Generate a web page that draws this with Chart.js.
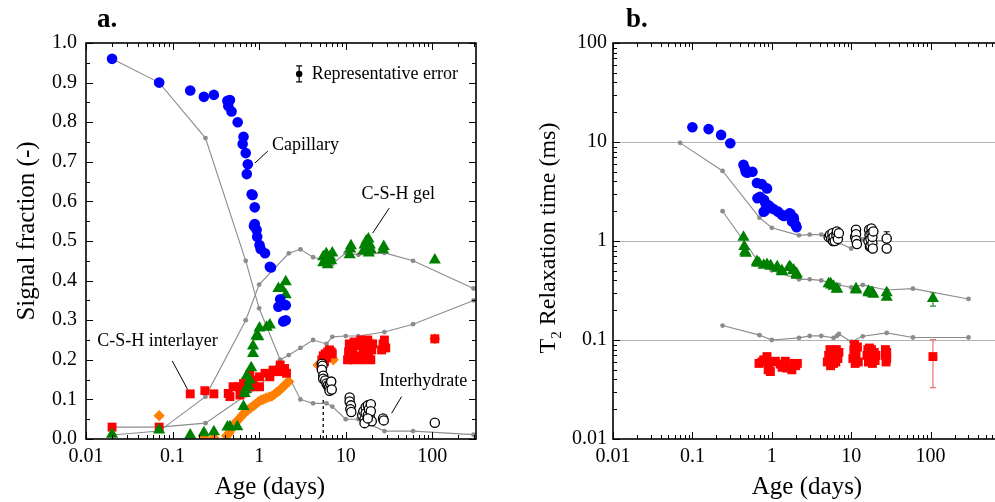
<!DOCTYPE html>
<html>
<head>
<meta charset="utf-8">
<title>Signal fractions and T2 relaxation times vs age</title>
<script src="https://cdn.jsdelivr.net/npm/chart.js@4.4.1/dist/chart.umd.min.js"></script>
<style>
  body { margin: 0; width: 995px; height: 502px; overflow: hidden; background: #fff; position: relative; }
  #chartA { position: absolute; left: 0; top: 0; }
  #chartB { position: absolute; left: 500px; top: 0; }
</style>
</head>
<body>
<canvas id="chartA" width="500" height="502"></canvas>
<canvas id="chartB" width="530" height="502"></canvas>
<script>
// ---------- panel a : signal fraction vs age (days) ----------
const capillaryFrac = [[0.02,0.96],[0.07,0.90],[0.16,0.88],[0.23,0.864],[0.30,0.869],[0.43,0.854],[0.46,0.856],
  [0.44,0.841],[0.48,0.827],[0.565,0.80],[0.66,0.763],[0.645,0.745],[0.70,0.722],[0.74,0.694],[0.72,0.669],
  [0.82,0.618],[0.84,0.616],[0.89,0.585],[0.89,0.543],[0.87,0.538],[0.935,0.528],[0.95,0.511],[1.01,0.49],
  [1.04,0.48],[1.17,0.469],[1.33,0.435],[1.37,0.433],[1.67,0.334],[1.75,0.353],[2.03,0.338],[1.9,0.297],[2.03,0.30]];
const gelFrac = [[0.02,0.012],[0.07,0.023],[0.16,0.01],[0.23,0.016],[0.30,0.018],[0.43,0.03],[0.46,0.031],
  [0.56,0.031],[0.66,0.082],[0.68,0.115],[0.70,0.125],[0.75,0.133],[0.72,0.16],[0.78,0.149],[0.81,0.18],
  [0.85,0.216],[0.85,0.235],[0.93,0.26],[0.98,0.258],[1.01,0.28],[1.22,0.282],[1.33,0.288],[1.67,0.38],
  [1.82,0.38],[2.03,0.397],[2.03,0.364],
  [5.5,0.445],[5.5,0.46],[5.8,0.45],[5.96,0.468],[6.2,0.455],[6.2,0.44],[6.6,0.46],[6.8,0.45],[7.0,0.47],
  [11.1,0.465],[11.3,0.48],[11.5,0.488],[16,0.475],[16.5,0.49],[17,0.48],[17.3,0.5],[18,0.485],[18.3,0.505],
  [18.5,0.47],[19,0.49],[19.5,0.478],[27,0.478],[27.5,0.486],[107,0.452]];
const interlayerFrac = [[0.02,0.03],[0.07,0.03],[0.16,0.114],[0.236,0.122],[0.30,0.114],[0.44,0.115],[0.46,0.107],
  [0.50,0.132],[0.57,0.132],[0.6,0.111],[0.66,0.14],[0.74,0.132],[0.78,0.162],[0.85,0.149],[0.89,0.132],
  [1.01,0.157],[1.01,0.132],[1.17,0.166],[1.33,0.157],[1.45,0.174],[1.67,0.17],[1.75,0.187],[1.97,0.178],[2.07,0.166],
  [5.2,0.185],[5.3,0.2],[5.5,0.21],[5.7,0.195],[5.8,0.215],[6.0,0.205],[6.2,0.22],[6.5,0.225],[6.8,0.22],[7.0,0.215],
  [10.5,0.2],[10.8,0.22],[11,0.24],[11.5,0.21],[12,0.23],[12.3,0.2],[12.5,0.245],
  [14,0.21],[14.5,0.235],[15,0.25],[15.5,0.2],[16,0.225],[16.5,0.245],[17,0.205],[17.5,0.235],[18,0.25],
  [18.5,0.215],[19,0.24],[19.5,0.2],[20,0.225],[20.5,0.24],
  [26,0.225],[27,0.24],[28,0.25],[29,0.23],[107,0.253]];
const diamondFrac = [[0.07,0.059],[0.23,0.003],[0.30,0.003],[0.42,0.008],[0.45,0.015],[0.48,0.025],[0.51,0.035],
  [0.54,0.042],[0.57,0.048],[0.61,0.055],[0.65,0.062],[0.69,0.068],[0.74,0.073],[0.79,0.078],[0.85,0.083],
  [0.91,0.088],[0.98,0.094],[1.05,0.098],[1.12,0.1],[1.2,0.103],[1.3,0.106],[1.4,0.108],[1.5,0.113],[1.6,0.118],
  [1.7,0.122],[1.8,0.127],[1.9,0.132],[2.0,0.137],[2.1,0.142],[2.2,0.145],
  [4.8,0.187],[7.2,0.2],[11,0.22],[18,0.22],[28,0.235],[107,0.253]];
const interhydrateFrac = [[5.3,0.19],[5.4,0.185],[5.3,0.175],[5.5,0.16],[5.5,0.152],[5.8,0.148],[6.0,0.14],
  [6.2,0.135],[6.4,0.13],[6.6,0.14],[6.8,0.145],[6.5,0.122],[6.9,0.125],
  [11.1,0.105],[11.1,0.095],[11.5,0.085],[11.3,0.075],[11.6,0.068],
  [15.5,0.06],[16,0.07],[16.5,0.05],[17,0.08],[17,0.065],[17.5,0.045],[18,0.085],[18,0.06],[18.5,0.075],
  [19,0.055],[19.5,0.088],[19.5,0.07],[20,0.045],[16.5,0.04],[18,0.052],
  [27,0.052],[27.5,0.047],[107,0.041]];
const capillaryModelFrac = [[0.02,0.96],[0.07,0.90],[0.24,0.76],[0.7,0.45],[1,0.33],[1.75,0.2],[3,0.1],[4.2,0.09],
  [6,0.09],[7,0.082],[10,0.05],[14,0.05],[28,0.02],[60,0.02],[300,0.011]];
const gelModelFrac = [[0.02,0.01],[0.07,0.02],[0.24,0.107],[0.7,0.30],[1,0.39],[2.2,0.469],[3,0.479],[4.2,0.459],
  [6,0.45],[7,0.442],[10,0.47],[14,0.465],[28,0.47],[60,0.45],[300,0.38]];
const interlayerModelFrac = [[0.02,0.03],[0.07,0.03],[0.24,0.04],[0.7,0.11],[1,0.13],[1.75,0.2],[2.2,0.212],
  [3,0.23],[4.2,0.25],[6,0.24],[7,0.258],[10,0.26],[14,0.26],[28,0.27],[60,0.29],[300,0.35]];
const markerLine55 = [[5.5,0],[5.5,0.107]];
const repErrorA = [[2.9,0.922,0.902,0.942]];     // age, value, low, high

// ---------- panel b : T2 relaxation time (ms) vs age (days) ----------
const capillaryT2 = [[0.1,14.1],[0.16,13.5],[0.23,11.8],[0.30,9.7],[0.44,5.9],[0.46,5.4],[0.47,5.0],[0.49,4.9],
  [0.57,5.0],[0.65,3.85],[0.75,3.75],[0.87,3.4],[0.66,2.7],[0.71,2.8],[0.8,2.6],[0.83,2.4],[0.91,2.3],[0.79,1.98],
  [0.83,2.05],[0.96,2.2],[1.05,2.1],[1.2,1.98],[1.34,1.84],[1.42,1.79],[1.67,1.9],[1.72,1.88],[1.88,1.73],
  [1.9,1.65],[1.8,1.57],[2.0,1.45],[2.05,1.38]];
const gelT2 = [[0.44,1.09],[0.45,0.88],[0.46,0.78],[0.47,0.75],[0.65,0.62],[0.65,0.6],[0.69,0.6],[0.79,0.57],
  [0.87,0.58],[0.96,0.56],[0.97,0.56],[1.17,0.53],[1.17,0.55],[1.34,0.49],[1.34,0.5],[1.66,0.55],[1.72,0.54],
  [1.88,0.51],[1.88,0.5],[2.05,0.47],[2.05,0.45],[5.2,0.37],[5.5,0.37],[5.6,0.36],[6.0,0.35],[6.6,0.33],
  [6.6,0.325],[11.5,0.32],[11.5,0.33],[16.5,0.31],[16.5,0.30],[17.8,0.30],[18.5,0.30],[19,0.29],[28,0.30],
  [28,0.27],[107,0.263]];
const interlayerT2 = [[0.69,0.058],[0.75,0.06],[0.79,0.063],[0.87,0.068],[0.91,0.054],[0.96,0.048],[0.9,0.05],
  [1.0,0.06],[1.11,0.061],[1.28,0.057],[1.35,0.053],[1.48,0.061],[1.55,0.052],[1.79,0.05],[1.89,0.058],[2.0,0.055],
  [2.1,0.058],
  [5.0,0.06],[5.2,0.07],[5.4,0.08],[5.5,0.055],[5.6,0.065],[5.8,0.075],[6.0,0.058],[6.2,0.07],[6.4,0.06],
  [6.5,0.08],[6.8,0.065],[7.0,0.075],
  [10.5,0.065],[10.8,0.08],[11,0.09],[11.2,0.058],[11.5,0.07],[12,0.085],[12.3,0.06],
  [15.8,0.07],[16.2,0.08],[16.5,0.06],[17,0.075],[17,0.083],[17.5,0.065],[18,0.08],[18.5,0.058],[19,0.07],
  [19.5,0.075],[20,0.062],[20.5,0.07],
  [27,0.08],[27,0.07],[27.5,0.06],[28,0.075],[28,0.065],[107,0.068]];
const interhydrateT2 = [[5.2,1.1],[5.4,1.15],[5.6,1.05],[5.8,1.2],[5.9,1.0],[6.0,1.1],[6.2,1.0],[6.5,1.15],
  [6.6,1.25],[6.8,1.05],[7.0,1.2],
  [11.2,1.1],[11.5,1.3],[11.5,1.17],[11.5,1.02],[11.8,0.93],
  [16.5,1.0],[16.8,1.3],[17,1.15],[17.2,0.88],[17.5,0.9],[17.5,1.05],[18,1.34],[18,1.2],[18.5,0.95],
  [18.5,1.1],[18.7,0.84],[19,1.25],[28,1.06],[28,0.84]];
const capillaryModelT2 = [[0.07,9.8],[0.24,5.1],[0.7,1.72],[1,1.36],[2.2,1.14],[3,1.16],[4.2,1.16],[7,0.96],
  [10,0.84],[14,1.04],[28,1.0]];
const gelModelT2 = [[0.24,2.0],[0.7,0.6],[1,0.505],[2.2,0.41],[3,0.41],[4.2,0.40],[7,0.36],[10,0.34],[14,0.36],
  [28,0.32],[60,0.33],[300,0.26]];
const interlayerModelT2 = [[0.24,0.14],[0.7,0.112],[1,0.1],[2.2,0.105],[3,0.11],[4.2,0.11],[6,0.105],[6.6,0.11],
  [7,0.115],[10,0.096],[14,0.109],[28,0.118],[60,0.106],[300,0.106]];
const errInterhydrateT2 = [[28,1.06,0.90,1.24]];
const errGelT2 = [[107,0.263,0.22,0.30]];
const errInterlayerT2 = [[107,0.068,0.033,0.101]];

// tick values and their labels
const ageTicks = [0.01, 0.1, 1, 10, 100];
const ageTickLabels = ['0.01', '0.1', '1', '10', '100'];
const fracTicks = [0, 0.1, 0.2, 0.3, 0.4, 0.5, 0.6, 0.7, 0.8, 0.9, 1.0];
const fracTickLabels = ['0.0', '0.1', '0.2', '0.3', '0.4', '0.5', '0.6', '0.7', '0.8', '0.9', '1.0'];
const t2Ticks = [0.01, 0.1, 1, 10, 100];
const t2TickLabels = ['0.01', '0.1', '1', '10', '100'];

const SERIF = '"Liberation Serif", "Times New Roman", serif';
const GRAY = '#8c8c8c';

const pts = arr => arr.map(([x, y]) => ({x, y}));

function markers(arr, style, radius, fill, order, extra) {
  return Object.assign({
    data: pts(arr), showLine: false, pointStyle: style, pointRadius: radius,
    pointBackgroundColor: fill, pointBorderColor: fill, pointBorderWidth: 0, order: order, clip: 0
  }, extra || {});
}
function model(arr) {
  return {
    data: pts(arr), showLine: true, borderColor: GRAY, borderWidth: 1.1, pointRadius: 2.4,
    pointStyle: 'circle', pointBackgroundColor: GRAY, pointBorderWidth: 0, order: 20, clip: 0
  };
}

function logTickList(min, max) {
  const out = [];
  for (let e = Math.floor(Math.log10(min)); e <= Math.ceil(Math.log10(max)); e++) {
    for (let k = 1; k <= 9; k++) {
      const v = k * Math.pow(10, e);
      if (v >= min * 0.9999 && v <= max * 1.0001) out.push({v, major: k === 1});
    }
  }
  return out;
}
function linTickList(min, max, step) {
  const out = [];
  const n = Math.round((max - min) / step);
  for (let i = 0; i <= n; i++) out.push({v: min + i * step, major: i % 2 === 0});
  return out;
}

// frame, inward ticks, error bars and the text that is not part of the axes
const decor = {
  id: 'decor',
  beforeDatasetsDraw(chart, args, o) {
    const {ctx, scales: {x, y}} = chart;
    ctx.save();
    for (const eb of o.errors || []) {
      ctx.strokeStyle = eb.color;
      ctx.lineWidth = 1.2;
      for (const [ex, , lo, hi] of eb.data) {
        const px = x.getPixelForValue(ex);
        const p1 = y.getPixelForValue(lo), p2 = y.getPixelForValue(hi);
        ctx.beginPath();
        ctx.moveTo(px, p1); ctx.lineTo(px, p2);
        ctx.moveTo(px - 3, p1); ctx.lineTo(px + 3, p1);
        ctx.moveTo(px - 3, p2); ctx.lineTo(px + 3, p2);
        ctx.stroke();
      }
    }
    ctx.restore();
  },
  afterDatasetsDraw(chart, args, o) {
    const {ctx, chartArea: a, scales: {x, y}} = chart;
    ctx.save();
    ctx.strokeStyle = '#000';
    ctx.lineWidth = 1;
    ctx.beginPath();
    for (const t of logTickList(x.min, x.max)) {
      const px = Math.round(x.getPixelForValue(t.v)) + 0.5;
      const len = t.major ? 7 : 4;
      ctx.moveTo(px, a.bottom); ctx.lineTo(px, a.bottom - len);
      ctx.moveTo(px, a.top); ctx.lineTo(px, a.top + len);
    }
    const yt = o.yLog ? logTickList(y.min, y.max) : linTickList(y.min, y.max, 0.05);
    for (const t of yt) {
      const py = Math.round(y.getPixelForValue(t.v)) + 0.5;
      const len = t.major ? 7 : 4;
      ctx.moveTo(a.left, py); ctx.lineTo(a.left + len, py);
      ctx.moveTo(a.right, py); ctx.lineTo(a.right - len, py);
    }
    ctx.stroke();
    ctx.lineWidth = 1.6;
    ctx.strokeRect(a.left, a.top, a.right - a.left, a.bottom - a.top);

    // leader lines and annotations (data coordinates)
    ctx.lineWidth = 1;
    for (const [x1, y1, x2, y2] of o.leaders || []) {
      ctx.beginPath();
      ctx.moveTo(x.getPixelForValue(x1), y.getPixelForValue(y1));
      ctx.lineTo(x.getPixelForValue(x2), y.getPixelForValue(y2));
      ctx.stroke();
    }
    ctx.fillStyle = '#000';
    ctx.textBaseline = 'middle';
    for (const n of o.notes || []) {
      ctx.font = '18px ' + SERIF;
      ctx.textAlign = n.align || 'left';
      ctx.fillText(n.text, x.getPixelForValue(n.x), y.getPixelForValue(n.y));
    }

    // panel letter
    ctx.font = 'bold 27px ' + SERIF;
    ctx.textAlign = 'left';
    ctx.textBaseline = 'alphabetic';
    ctx.fillText(o.letter.text, o.letter.x, o.letter.y);

    // axis titles
    ctx.font = '25px ' + SERIF;
    ctx.textAlign = 'center';
    ctx.textBaseline = 'middle';
    ctx.fillText(o.xTitle.text, o.xTitle.x, o.xTitle.y);
    ctx.translate(o.yTitle.x, o.yTitle.y);
    ctx.rotate(-Math.PI / 2);
    if (o.yTitle.sub) {
      ctx.font = '24px ' + SERIF;
      const mainW = ctx.measureText(o.yTitle.lead).width;
      const restW = ctx.measureText(o.yTitle.text).width;
      ctx.font = '15px ' + SERIF;
      const subW = ctx.measureText(o.yTitle.sub).width;
      let cx = -(mainW + subW + restW) / 2;
      ctx.textAlign = 'left';
      ctx.font = '24px ' + SERIF;
      ctx.fillText(o.yTitle.lead, cx, 0);
      cx += mainW;
      ctx.font = '15px ' + SERIF;
      ctx.fillText(o.yTitle.sub, cx, 8);
      cx += subW;
      ctx.font = '24px ' + SERIF;
      ctx.fillText(o.yTitle.text, cx, 0);
    } else {
      ctx.fillText(o.yTitle.text, 0, 0);
    }
    ctx.restore();
  }
};

function fixedTicks(values, labels) {
  return {
    afterBuildTicks: scale => { scale.ticks = values.map(v => ({value: v})); },
    ticks: {
      autoSkip: false, maxRotation: 0, color: '#000', font: {family: SERIF, size: 20},
      callback: (v, i) => labels[i]
    }
  };
}

// ----- panel a -----
const xA = fixedTicks(ageTicks, ageTickLabels);
const yA = fixedTicks(fracTicks, fracTickLabels);
new Chart(document.getElementById('chartA'), {
  type: 'scatter',
  data: {
    datasets: [
      markers(interhydrateFrac, 'circle', 4.6, '#fff', 0, {pointBorderColor: '#000', pointBorderWidth: 1.3}),
      markers(repErrorA.map(r => [r[0], r[1]]), 'circle', 3.2, '#000', 1),
      markers(capillaryFrac, 'circle', 5.3, '#0000ff', 2),
      markers(gelFrac, 'triangle', 7, '#008000', 3),
      markers(interlayerFrac, 'rect', 6.3, '#ff0000', 4),
      markers(diamondFrac, 'rectRot', 5.6, '#ff8000', 5),
      model(capillaryModelFrac),
      model(gelModelFrac),
      model(interlayerModelFrac),
      {data: pts(markerLine55), showLine: true, borderColor: '#000', borderWidth: 1.3, borderDash: [3, 3],
       pointRadius: 0, order: 25, clip: 0}
    ]
  },
  options: {
    responsive: false, animation: false, events: [],
    layout: {padding: {top: 43, right: 24, left: 0, bottom: 0}},
    plugins: {
      legend: {display: false}, tooltip: {enabled: false},
      decor: {
        yLog: false,
        errors: [{data: repErrorA, color: '#000'}],
        leaders: [[0.895, 0.697, 1.26, 0.727], [20.5, 0.52, 31.8, 0.583],
                  [0.0992, 0.197, 0.149, 0.1255], [33.9, 0.065, 44.2, 0.107]],
        notes: [
          {text: 'Capillary', x: 1.41, y: 0.742},
          {text: 'C-S-H gel', x: 40.4, y: 0.618, align: 'center'},
          {text: 'C-S-H interlayer', x: 0.0135, y: 0.246},
          {text: 'Interhydrate', x: 24.4, y: 0.146},
          {text: 'Representative error', x: 4.04, y: 0.922}
        ],
        letter: {text: 'a.', x: 97, y: 27},
        xTitle: {text: 'Age (days)', x: 270, y: 487},
        yTitle: {text: 'Signal fraction (-)', x: 27, y: 231}
      }
    },
    scales: {
      x: Object.assign({type: 'logarithmic', min: 0.01, max: 320,
        grid: {display: false, drawTicks: false}, border: {display: false},
        afterFit: s => { s.height = 63; }}, xA,
        {ticks: Object.assign({}, xA.ticks, {padding: 6})}),
      y: Object.assign({type: 'linear', min: 0, max: 1,
        grid: {display: false, drawTicks: false}, border: {display: false},
        afterFit: s => { s.width = 86; }}, yA,
        {ticks: Object.assign({}, yA.ticks, {padding: 9})})
    }
  },
  plugins: [decor]
});

// ----- panel b -----
const xB = fixedTicks(ageTicks, ageTickLabels);
const yB = fixedTicks(t2Ticks, t2TickLabels);
new Chart(document.getElementById('chartB'), {
  type: 'scatter',
  data: {
    datasets: [
      markers(interhydrateT2, 'circle', 4.6, '#fff', 0, {pointBorderColor: '#000', pointBorderWidth: 1.3}),
      markers(capillaryT2, 'circle', 5.3, '#0000ff', 2),
      markers(gelT2, 'triangle', 7, '#008000', 3),
      markers(interlayerT2, 'rect', 6.3, '#ff0000', 4),
      model(capillaryModelT2),
      model(gelModelT2),
      model(interlayerModelT2)
    ]
  },
  options: {
    responsive: false, animation: false, events: [],
    layout: {padding: {top: 43, right: 20, left: 0, bottom: 0}},
    plugins: {
      legend: {display: false}, tooltip: {enabled: false},
      decor: {
        yLog: true,
        errors: [{data: errInterhydrateT2, color: '#000'}, {data: errGelT2, color: '#2e8b2e'},
                 {data: errInterlayerT2, color: '#f07070'}],
        letter: {text: 'b.', x: 126, y: 27},
        xTitle: {text: 'Age (days)', x: 307, y: 487},
        yTitle: {lead: 'T', sub: '2', text: ' Relaxation time (ms)', x: 49, y: 238}
      }
    },
    scales: {
      x: Object.assign({type: 'logarithmic', min: 0.01, max: 1000,
        grid: {display: false, drawTicks: false}, border: {display: false},
        afterFit: s => { s.height = 63; }}, xB,
        {ticks: Object.assign({}, xB.ticks, {padding: 6})}),
      y: Object.assign({type: 'logarithmic', min: 0.01, max: 100,
        grid: {drawTicks: false, lineWidth: 1,
               color: c => (c.tick && [0.1, 1, 10].includes(c.tick.value)) ? '#b4b4b4' : 'rgba(0,0,0,0)'},
        border: {display: false},
        afterFit: s => { s.width = 113; }}, yB,
        {ticks: Object.assign({}, yB.ticks, {padding: 6})})
    }
  },
  plugins: [decor]
});
</script>
</body>
</html>
